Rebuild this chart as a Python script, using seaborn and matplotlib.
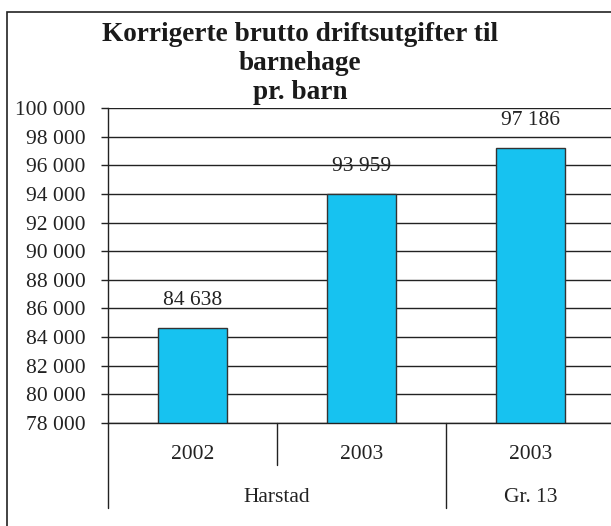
'''
    plot.py
    Korrigerte brutto driftsutgifter til barnehage pr. barn.
'''
import pandas as pd
import seaborn as sns
import matplotlib.pyplot as plt
from matplotlib.patches import Rectangle
from matplotlib.ticker import FuncFormatter

YEARS = ['2002', '2003', '2003']
GROUPS = ['Harstad', 'Harstad', 'Gr. 13']
VALUES = [84638, 93959, 97186]
GROUP_LABELS = ['Harstad', 'Gr. 13']
YTICKS = list(range(78000, 100001, 2000))
TITLE_LINES = ['Korrigerte brutto driftsutgifter til', 'barnehage', 'pr. barn']

BAR_COLOR = '#17C2F0'
INK = '#222222'
SERIF = ['Liberation Serif', 'DejaVu Serif']
FS = 15.5


def _fmt(v):
    return '{:,}'.format(int(round(v))).replace(',', ' ')


def main(out_path='out.png'):
    sns.set_style('white')
    plt.rcParams['font.family'] = SERIF

    df = pd.DataFrame({'key': [y + ' ' + g for y, g in zip(YEARS, GROUPS)],
                       'year': YEARS, 'group': GROUPS, 'value': VALUES})

    fig = plt.figure(figsize=(6.11, 5.26), dpi=100)
    ax = fig.add_axes([108 / 611, 1 - 423 / 526,
                       507 / 611, 315 / 526])
    sns.barplot(data=df, x='key', y='value', order=list(df.key),
                color=BAR_COLOR, width=0.41, edgecolor='#333333',
                linewidth=1.0, saturation=1, ax=ax)

    ax.set_xlim(-0.5, 2.5)
    ax.set_ylim(YTICKS[0], YTICKS[-1])
    ax.set_yticks(YTICKS)
    ax.yaxis.set_major_formatter(FuncFormatter(lambda v, _: _fmt(v)))
    ax.tick_params(axis='y', left=True, length=5, width=1, color=INK,
                   labelsize=FS, pad=11, labelcolor=INK)
    ax.set_xticks([])
    ax.set_xlabel('')
    ax.set_ylabel('')
    ax.yaxis.grid(True, color=INK, linewidth=1.0)
    ax.set_axisbelow(True)
    for side in ['top', 'right']:
        ax.spines[side].set_visible(False)
    for side in ['left', 'bottom']:
        ax.spines[side].set_color(INK)
        ax.spines[side].set_linewidth(1.0)

    # value labels above bars
    for i, v in enumerate(VALUES):
        ax.annotate(_fmt(v), (i, v), xytext=(0, 20), textcoords='offset points',
                    ha='center', va='center', fontsize=FS, color=INK)

    # two-level category axis
    trans = ax.get_xaxis_transform()
    ax.plot([-0.5, -0.5], [0, -0.27], color=INK, lw=1,
            transform=trans, clip_on=False)
    ax.plot([0.5, 0.5], [0, -0.133], color=INK, lw=1,
            transform=trans, clip_on=False)
    ax.plot([1.5, 1.5], [0, -0.27], color=INK, lw=1,
            transform=trans, clip_on=False)
    for i, y in enumerate(YEARS):
        ax.text(i, -0.101, y, transform=trans, ha='center', va='center',
                fontsize=FS, color=INK)
    ax.text(0.5, -0.236, GROUP_LABELS[0], transform=trans, ha='center',
            va='center', fontsize=FS, color=INK)
    ax.text(2, -0.236, GROUP_LABELS[1], transform=trans, ha='center',
            va='center', fontsize=FS, color=INK)

    # title, one line at a time on the reference baselines
    for line, base in zip(TITLE_LINES, [41, 70, 99]):
        fig.text(300 / 611, 1 - base / 526, line, ha='center', va='baseline',
                 fontsize=19.6, fontweight='bold', color='#1a1a1a')

    # chart frame
    fig.patches.append(Rectangle((7 / 611, -0.1), 1.2, 1.1 - 12 / 526,
                                 transform=fig.transFigure, fill=False,
                                 edgecolor=INK, lw=1.2))

    fig.savefig(out_path, dpi=100)


if __name__ == '__main__':
    main()
